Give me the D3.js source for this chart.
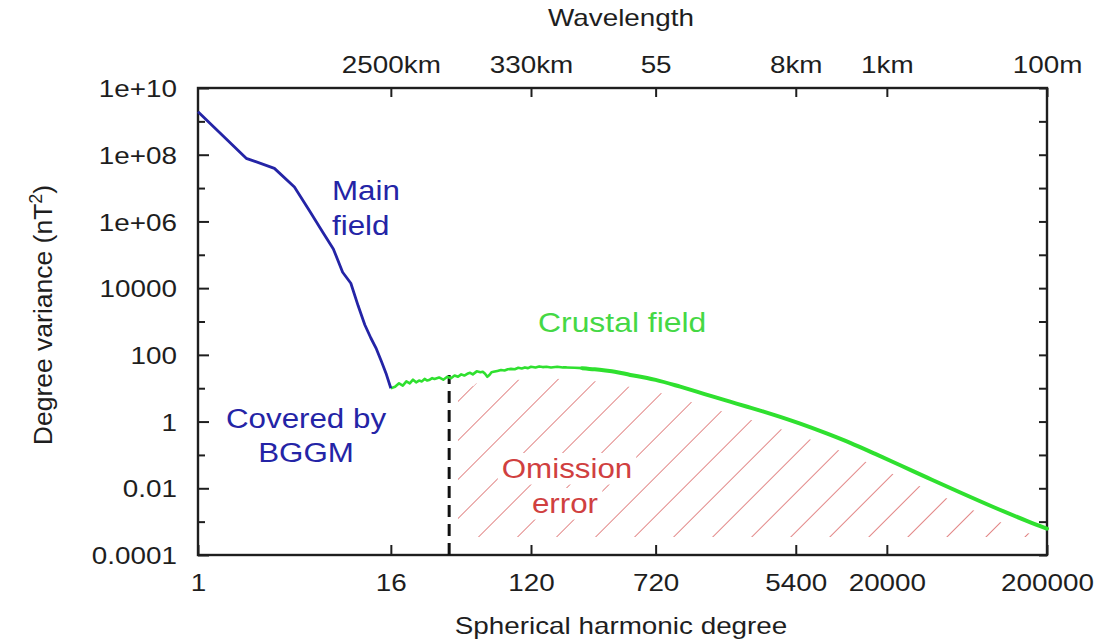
<!DOCTYPE html>
<html>
<head>
<meta charset="utf-8">
<script src="https://cdn.jsdelivr.net/npm/d3@7/dist/d3.min.js"></script>
<style>
  body { margin: 0; background: #fff; }
  svg { display: block; }
  text { font-family: "Liberation Sans", Arial, Helvetica, sans-serif; }
</style>
</head>
<body>
<svg id="chart" width="1102" height="644"></svg>
<script>
// Geomagnetic spectrum: main field (degrees 1-16) and crustal field (16-200000)
const mainDegrees  = [1, 2, 3, 4, 5, 6, 7, 8, 9, 10, 11, 12, 13, 14, 15, 16];
const mainVariance = [1.95e9, 7.8e7, 3.9e7, 1.07e7, 2.0e6, 4.8e5, 1.5e5, 3.0e4,
                      1.4e4, 2950, 800, 320, 150, 62, 26, 10];

const crustalDegrees = [16, 17, 18, 19, 20, 21, 22, 23, 24, 25, 26, 27, 28, 29, 30,
                        32, 34, 36, 38, 40, 42, 44, 46, 48, 50, 52, 55, 58, 60, 62,
                        64, 66, 68, 70, 74, 78, 82, 86, 90, 95, 100, 105, 110, 115,
                        120, 128, 135, 142, 150, 160, 175, 190, 200, 225, 250, 300,
                        350, 400, 500, 637, 720, 1025, 1300, 1648, 2100, 2687, 3400,
                        4318, 5757, 8489, 11815, 16930, 24250, 35760, 57480, 92390,
                        150660, 200000];
const crustalVariance = [10, 11, 14, 12, 16, 14, 18, 15, 17, 16, 19, 17, 18, 20, 19,
                         21, 18, 22, 20, 24, 22, 26, 24, 27, 29, 26, 32, 30, 31, 27,
                         22, 25, 30, 31, 33, 35, 34, 37, 38, 37, 41, 39, 42, 40,
                         44, 42, 45, 43, 44, 42, 44, 42, 42, 41, 40, 37,
                         34, 31.3, 25, 20.3, 17.8, 11.1, 7.9, 5.57, 3.95, 2.79, 1.99,
                         1.38, 0.863, 0.432, 0.229, 0.107, 0.0489, 0.0209, 0.00747, 0.00275,
                         0.00104, 0.000618];

// Lowest degree not resolved by the model (dashed marker)
const cutoffDegree = 37;
const cutoffVariance = 25;
const omissionStartDegree = 42;
const noisyLimitDegree = 250;

const bottomTickDegrees = [1, 16, 120, 720, 5400, 20000, 200000];
const bottomTickLabels  = ["1", "16", "120", "720", "5400", "20000", "200000"];
const topTickDegrees    = [16, 120, 720, 5400, 20000, 200000];
const topTickLabels     = ["2500km", "330km", "55", "8km", "1km", "100m"];
const yTickValues = [1e-4, 1e-2, 1, 1e2, 1e4, 1e6, 1e8, 1e10];
const yTickLabels = ["0.0001", "0.01", "1", "100", "10000", "1e+06", "1e+08", "1e+10"];
const yMinorValues = [1e-3, 1e-1, 10, 1e3, 1e5, 1e7, 1e9];
const yDecadeValues = d3.range(-4, 11).map(e => Math.pow(10, e));

const SX = 1.16;           // horizontal glyph stretch
const INK = "#1e1e1e";
const BLUE = "#2424a6";
const GREEN = "#2fe02f";
const GREEN_TEXT = "#45d845";
const RED = "#d0403f";

const svg = d3.select("#chart");
svg.append("rect").attr("width", 1102).attr("height", 644).attr("fill", "#fff");

const x = d3.scaleLog().domain([1, 200000]).range([198, 1047]);
const y = d3.scaleLog().domain([1e-4, 1e10]).range([555, 88]);

const defs = svg.append("defs");
defs.append("pattern")
  .attr("id", "hatch")
  .attr("patternUnits", "userSpaceOnUse")
  .attr("width", 27.6).attr("height", 20)
  .attr("patternTransform", "rotate(45)")
  .append("path")
  .attr("d", "M0,-2V22")
  .attr("stroke", RED).attr("stroke-width", 1.4).attr("opacity", 0.9);

const crustal = d3.zip(crustalDegrees, crustalVariance);
const main = d3.zip(mainDegrees, mainVariance);

// Omission-error hatch between the crustal spectrum and the bottom axis
const hatchBottom = y.range()[0] - 18;
const hatchArea = d3.area()
  .curve(d3.curveMonotoneX)
  .x(d => x(d[0]))
  .y0(hatchBottom)
  .y1(d => Math.min(y(d[1]) + 12, hatchBottom));
svg.append("path")
  .datum(crustal.filter(d => d[0] >= omissionStartDegree))
  .attr("d", hatchArea)
  .attr("fill", "url(#hatch)");

// Axes
function styleAxis(g) {
  g.attr("font-size", null).attr("font-family", null);
  g.select(".domain").remove();
  g.selectAll(".tick line").attr("stroke", INK).attr("stroke-width", 2);
  g.selectAll(".tick text").attr("fill", INK).attr("font-size", 24);
}

const gLeft = svg.append("g").attr("transform", `translate(${x.range()[0]},0)`)
  .call(d3.axisLeft(y).tickValues(yTickValues).tickFormat((d, i) => yTickLabels[i]).tickSize(-11));
styleAxis(gLeft);
gLeft.selectAll(".tick text").attr("x", 0).attr("dy", "0.36em")
  .attr("transform", `translate(-21,0) scale(${SX},1)`);

const gLeftMinor = svg.append("g").attr("transform", `translate(${x.range()[0]},0)`)
  .call(d3.axisLeft(y).tickValues(yMinorValues).tickFormat("").tickSize(-7));
styleAxis(gLeftMinor);

const gRight = svg.append("g").attr("transform", `translate(${x.range()[1]},0)`)
  .call(d3.axisRight(y).tickValues(yDecadeValues).tickFormat("").tickSize(-8));
styleAxis(gRight);

const gBottom = svg.append("g").attr("transform", `translate(0,${y.range()[0]})`)
  .call(d3.axisBottom(x).tickValues(bottomTickDegrees).tickFormat((d, i) => bottomTickLabels[i]).tickSize(-10));
styleAxis(gBottom);
gBottom.selectAll(".tick text").attr("y", 0).attr("dy", 0)
  .attr("transform", `translate(0,36) scale(${SX},1)`);

const gTop = svg.append("g").attr("transform", `translate(0,${y.range()[1]})`)
  .call(d3.axisTop(x).tickValues(topTickDegrees).tickFormat((d, i) => topTickLabels[i]).tickSize(-9));
styleAxis(gTop);
gTop.selectAll(".tick text").attr("y", 0).attr("dy", 0)
  .attr("transform", `translate(0,-15) scale(${SX},1)`);

// Plot frame
svg.append("rect")
  .attr("x", x.range()[0]).attr("y", y.range()[1])
  .attr("width", x.range()[1] - x.range()[0])
  .attr("height", y.range()[0] - y.range()[1])
  .attr("fill", "none").attr("stroke", INK).attr("stroke-width", 2.4);

// Cutoff marker
svg.append("line")
  .attr("x1", x(cutoffDegree)).attr("x2", x(cutoffDegree))
  .attr("y1", y(1e-4)).attr("y2", y(cutoffVariance))
  .attr("stroke", "#111").attr("stroke-width", 3).attr("stroke-dasharray", "12,7");

// Spectra: noisy low-degree crustal part drawn thinner than the smooth tail
const line = d3.line().x(d => x(d[0])).y(d => y(d[1]));
const smoothLine = d3.line().curve(d3.curveMonotoneX).x(d => x(d[0])).y(d => y(d[1]));
svg.append("path").datum(crustal.filter(d => d[0] <= noisyLimitDegree)).attr("d", line)
  .attr("fill", "none").attr("stroke", GREEN).attr("stroke-width", 2.6)
  .attr("stroke-linejoin", "round");
svg.append("path").datum(crustal.filter(d => d[0] >= noisyLimitDegree)).attr("d", smoothLine)
  .attr("fill", "none").attr("stroke", GREEN).attr("stroke-width", 4)
  .attr("stroke-linejoin", "round").attr("stroke-linecap", "round");
svg.append("path").datum(main).attr("d", line)
  .attr("fill", "none").attr("stroke", BLUE).attr("stroke-width", 2.8)
  .attr("stroke-linejoin", "round");

// Text helper with horizontal stretch
function addText(parent, str, px, py, size, color, anchor) {
  return parent.append("text")
    .attr("transform", `translate(${px},${py}) scale(${SX},1)`)
    .attr("text-anchor", anchor)
    .attr("font-size", size)
    .attr("fill", color)
    .text(str);
}

// Axis titles
addText(svg, "Wavelength", 621, 26, 24, INK, "middle");
addText(svg, "Spherical harmonic degree", 621, 634, 24, INK, "middle");
const yTitle = svg.append("text")
  .attr("transform", "translate(52,315) rotate(-90)")
  .attr("text-anchor", "middle")
  .attr("font-size", 26.5)
  .attr("fill", INK);
yTitle.append("tspan").text("Degree variance (nT");
yTitle.append("tspan").attr("dy", -10).attr("font-size", 18).text("2");
yTitle.append("tspan").attr("dy", 10).text(")");

// Annotations
addText(svg, "Main", 332, 200, 27, BLUE, "start");
addText(svg, "field", 332, 235, 27, BLUE, "start");
addText(svg, "Covered by", 306, 428, 27, BLUE, "middle");
addText(svg, "BGGM", 306, 462, 27, BLUE, "middle");
addText(svg, "Crustal field", 538, 332, 27.5, GREEN_TEXT, "start");

// Omission labels sit on white boxes over the hatch
function boxedText(str, px, py) {
  const g = svg.append("g");
  const t = addText(g, str, px, py, 27, RED, "middle");
  const b = g.node().getBBox();
  g.insert("rect", "text")
    .attr("x", b.x - 4).attr("y", b.y - 1)
    .attr("width", b.width + 8).attr("height", b.height + 2)
    .attr("fill", "#fff");
  return t;
}
boxedText("Omission", 567, 478);
boxedText("error", 565, 513);
</script>
</body>
</html>
